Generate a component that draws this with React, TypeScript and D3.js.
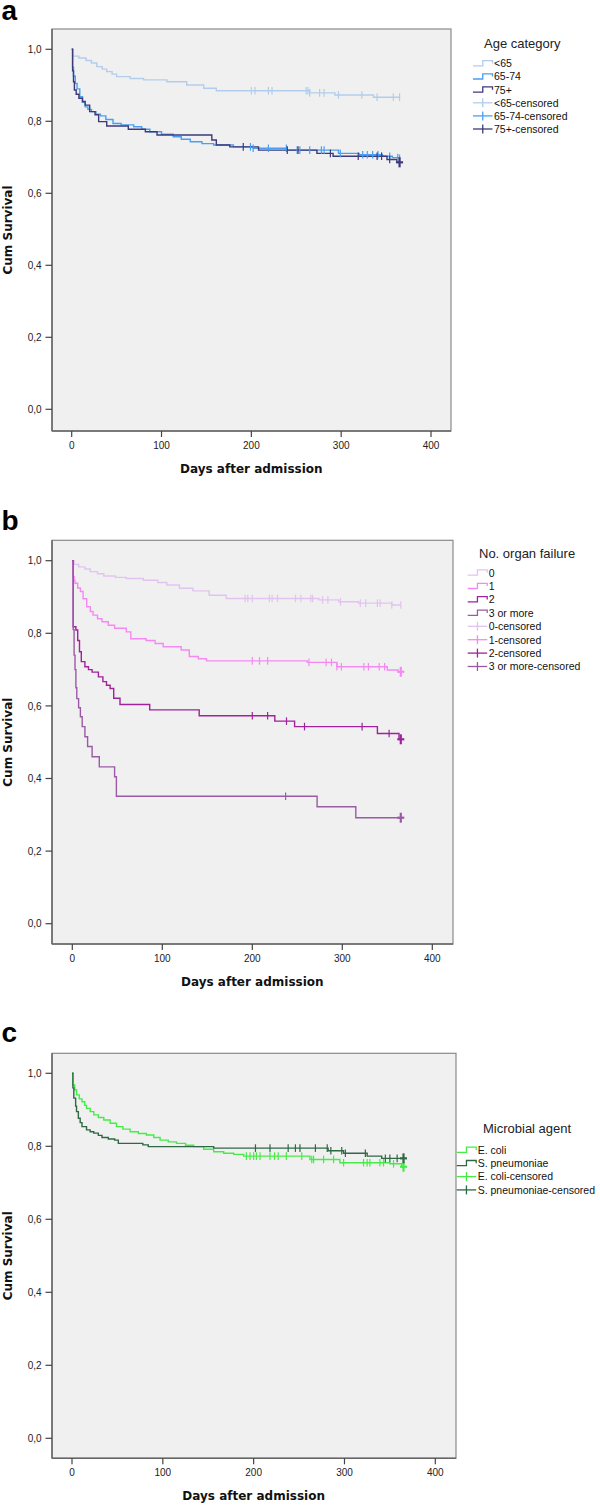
import * as d3 from 'd3'

// ---- panel a: age category ----
const ageUnder65Days = [0, 1, 8, 16, 22, 28, 34, 39, 45, 50, 65, 80, 106, 128, 147, 161, 265, 293, 336, 365]
const ageUnder65Surv = [1, 0.981, 0.976, 0.969, 0.962, 0.952, 0.945, 0.938, 0.931, 0.924, 0.919, 0.915, 0.91, 0.901, 0.892, 0.885, 0.879, 0.873, 0.867, 0.867]
const ageUnder65Censor = [200, 204, 219, 223, 261, 263, 265, 276, 281, 297, 323, 340, 358, 365]

const age6574Days = [0, 1, 2, 4, 6, 9, 12, 15, 18, 22, 27, 32, 38, 46, 55, 69, 78, 87, 100, 113, 122, 132, 145, 158, 180, 202, 240, 297, 320, 346, 357, 365]
const age6574Surv = [1, 0.95, 0.925, 0.905, 0.89, 0.868, 0.853, 0.84, 0.833, 0.827, 0.82, 0.815, 0.805, 0.794, 0.79, 0.785, 0.778, 0.771, 0.764, 0.757, 0.75, 0.743, 0.738, 0.734, 0.729, 0.725, 0.72, 0.711, 0.707, 0.703, 0.699, 0.697]
const age6574Censor = [199, 202, 219, 239, 251, 254, 265, 278, 281, 299, 324, 329, 335, 341, 354, 363, 365]

const age75Days = [0, 1, 2, 3, 5, 8, 12, 15, 20, 26, 30, 39, 63, 82, 95, 156, 161, 176, 208, 273, 291, 351, 362, 365]
const age75Surv = [1, 0.94, 0.91, 0.887, 0.875, 0.864, 0.855, 0.845, 0.827, 0.818, 0.799, 0.787, 0.778, 0.771, 0.762, 0.748, 0.734, 0.729, 0.72, 0.711, 0.703, 0.694, 0.686, 0.686]
const age75Censor = [191, 240, 252, 288, 319, 340, 345, 354, 365]

// ---- panel b: number of organ failures ----
const organ0Days = [0, 2, 7, 14, 20, 28, 35, 48, 60, 79, 95, 105, 119, 134, 152, 171, 274, 296, 318, 355, 365]
const organ0Surv = [1, 0.99, 0.983, 0.977, 0.97, 0.964, 0.958, 0.954, 0.951, 0.946, 0.94, 0.933, 0.924, 0.917, 0.905, 0.896, 0.892, 0.887, 0.883, 0.878, 0.878]
const organ0Censor = [192, 195, 200, 219, 222, 228, 248, 254, 265, 267, 278, 284, 298, 320, 326, 339, 342, 355, 365]

const organ1Days = [0, 1, 2, 3, 6, 9, 12, 16, 20, 23, 28, 33, 40, 47, 60, 65, 82, 92, 101, 121, 130, 140, 149, 261, 294, 350, 362, 365]
const organ1Surv = [1, 0.956, 0.945, 0.938, 0.925, 0.915, 0.895, 0.873, 0.86, 0.85, 0.84, 0.832, 0.822, 0.814, 0.804, 0.785, 0.78, 0.772, 0.763, 0.754, 0.736, 0.73, 0.724, 0.72, 0.708, 0.699, 0.694, 0.694]
const organ1Censor = [200, 208, 217, 263, 282, 288, 294, 299, 324, 329, 341, 347, 365]

const organ2Days = [0, 1, 4, 6, 8, 10, 14, 18, 22, 29, 34, 38, 42, 46, 53, 86, 141, 225, 247, 339, 363, 365]
const organ2Surv = [1, 0.818, 0.809, 0.78, 0.749, 0.722, 0.708, 0.7, 0.693, 0.68, 0.667, 0.657, 0.648, 0.621, 0.604, 0.589, 0.573, 0.558, 0.543, 0.524, 0.508, 0.508]
const organ2Censor = [200, 217, 238, 258, 322, 352, 365]

const organ3Days = [0, 1, 2, 3, 4, 5, 7, 9, 11, 14, 17, 22, 30, 47, 49, 272, 315, 365]
const organ3Surv = [1, 0.81, 0.74, 0.7, 0.65, 0.62, 0.595, 0.57, 0.543, 0.515, 0.488, 0.46, 0.432, 0.405, 0.351, 0.322, 0.292, 0.292]
const organ3Censor = [237, 365]

// ---- panel c: microbial agent ----
const ecoliDays = [0, 1, 3, 5, 8, 11, 14, 16, 20, 24, 29, 35, 42, 49, 56, 64, 73, 82, 90, 97, 106, 115, 125, 134, 145, 156, 167, 178, 189, 262, 295, 350, 363, 365]
const ecoliSurv = [1, 0.968, 0.955, 0.941, 0.93, 0.922, 0.912, 0.904, 0.895, 0.886, 0.879, 0.872, 0.863, 0.854, 0.847, 0.84, 0.835, 0.831, 0.824, 0.817, 0.812, 0.808, 0.803, 0.799, 0.792, 0.785, 0.781, 0.778, 0.773, 0.764, 0.755, 0.752, 0.744, 0.744]
const ecoliCensor = [192, 196, 200, 203, 207, 218, 223, 227, 236, 253, 264, 266, 277, 288, 299, 321, 325, 328, 339, 343, 354, 365]

const pneumoDays = [0, 1, 2, 4, 5, 7, 9, 11, 16, 20, 24, 29, 33, 40, 47, 51, 78, 84, 156, 282, 299, 325, 341, 365]
const pneumoSurv = [1, 0.96, 0.932, 0.91, 0.895, 0.877, 0.865, 0.854, 0.845, 0.84, 0.836, 0.83, 0.824, 0.82, 0.817, 0.808, 0.804, 0.799, 0.795, 0.788, 0.781, 0.773, 0.767, 0.767]
const pneumoCensor = [202, 218, 238, 246, 251, 268, 281, 285, 297, 301, 323, 345, 350, 358, 365]

const xTicks = [0, 100, 200, 300, 400]
const yTicks = [0, 0.2, 0.4, 0.6, 0.8, 1.0]

type Series = {
  name: string
  days: number[]
  surv: number[]
  censor: number[]
  color: string
  heavyEnd: boolean
}

type Layout = {
  box: [number, number, number, number]
  xRange: [number, number]
  yRange: [number, number]
  letterY: number
  symX: number
  titleX: number
  titleY: number
  itemY: number
  itemStep: number
}

const panels: { letter: string; legendTitle: string; series: Series[]; layout: Layout }[] = [
  {
    letter: 'a',
    legendTitle: 'Age category',
    series: [
      { name: '<65', days: ageUnder65Days, surv: ageUnder65Surv, censor: ageUnder65Censor, color: '#b2cdec', heavyEnd: false },
      { name: '65-74', days: age6574Days, surv: age6574Surv, censor: age6574Censor, color: '#4a9ff2', heavyEnd: false },
      { name: '75+', days: age75Days, surv: age75Surv, censor: age75Censor, color: '#3d3a7a', heavyEnd: true },
    ],
    layout: {
      box: [52, 29, 451, 431],
      xRange: [71.7, 431],
      yRange: [409.3, 49.3],
      letterY: 20,
      symX: 473,
      titleX: 484,
      titleY: 43.3,
      itemY: 63.5,
      itemStep: 13.1,
    },
  },
  {
    letter: 'b',
    legendTitle: 'No. organ failure',
    series: [
      { name: '0', days: organ0Days, surv: organ0Surv, censor: organ0Censor, color: '#e2c3f0', heavyEnd: false },
      { name: '1', days: organ1Days, surv: organ1Surv, censor: organ1Censor, color: '#f589f3', heavyEnd: true },
      { name: '2', days: organ2Days, surv: organ2Surv, censor: organ2Censor, color: '#a0229c', heavyEnd: true },
      { name: '3 or more', days: organ3Days, surv: organ3Surv, censor: organ3Censor, color: '#9a5ba6', heavyEnd: true },
    ],
    layout: {
      box: [52, 540.3, 453, 944],
      xRange: [72.3, 432.3],
      yRange: [923.7, 560.7],
      letterY: 530,
      symX: 467.7,
      titleX: 479,
      titleY: 553.3,
      itemY: 572.7,
      itemStep: 13.4,
    },
  },
  {
    letter: 'c',
    legendTitle: 'Microbial agent',
    series: [
      { name: 'E. coli', days: ecoliDays, surv: ecoliSurv, censor: ecoliCensor, color: '#46ec46', heavyEnd: true },
      { name: 'S. pneumoniae', days: pneumoDays, surv: pneumoSurv, censor: pneumoCensor, color: '#2e6944', heavyEnd: true },
    ],
    layout: {
      box: [52, 1053.3, 456, 1458.3],
      xRange: [72, 435.3],
      yRange: [1438.3, 1073.3],
      letterY: 1042,
      symX: 456.7,
      titleX: 483,
      titleY: 1128,
      itemY: 1150,
      itemStep: 13.3,
    },
  },
]

const sans = '"Liberation Sans", Arial, sans-serif'
const boldFont = '"DejaVu Sans", Verdana, sans-serif'

function survivalAt(s: Series, t: number) {
  const i = d3.bisectRight(s.days, t) - 1
  return s.surv[Math.max(0, i)]
}

function formatTick(v: number) {
  return d3.format('.1f')(v).replace('.', ',')
}

function Panel({ letter, legendTitle, series, layout }: (typeof panels)[number]) {
  const [left, top, right, bottom] = layout.box
  const x = d3.scaleLinear().domain([0, 400]).range(layout.xRange)
  const y = d3.scaleLinear().domain([0, 1]).range(layout.yRange)
  const line = d3
    .line<[number, number]>()
    .x((d) => x(d[0]))
    .y((d) => y(d[1]))
    .curve(d3.curveStepAfter)
  const midY = (top + bottom) / 2
  const symW = 19.5
  const legendRows = [
    ...series.map((s) => ({ label: s.name, color: s.color, censored: false })),
    ...series.map((s) => ({ label: `${s.name}-censored`, color: s.color, censored: true })),
  ]

  return (
    <g>
      <text x={1.5} y={layout.letterY} fontFamily={sans} fontWeight="bold" fontSize="28" fill="#000">
        {letter}
      </text>

      <rect x={left} y={top} width={right - left} height={bottom - top} fill="#f0f0f0" stroke="#8a8a8a" strokeWidth="1.2" />
      <line x1={left} x2={left} y1={top} y2={bottom} stroke="#666" strokeWidth="1.5" />
      <line x1={left} x2={right} y1={bottom} y2={bottom} stroke="#666" strokeWidth="1.5" />

      {yTicks.map((tick) => (
        <g key={tick} transform={`translate(0,${y(tick)})`}>
          <line x1={left - 6.5} x2={left} stroke="#444" strokeWidth="1.2" />
          <text x={41.7} y={3.6} textAnchor="end" fontFamily={sans} fontSize="10" fill="#222">
            {formatTick(tick)}
          </text>
        </g>
      ))}

      {xTicks.map((tick) => (
        <g key={tick} transform={`translate(${x(tick)},0)`}>
          <line y1={bottom} y2={bottom + 6} stroke="#444" strokeWidth="1.2" />
          <text y={bottom + 17.5} textAnchor="middle" fontFamily={sans} fontSize="10" fill="#222">
            {tick}
          </text>
        </g>
      ))}

      <text
        x={(layout.xRange[0] + layout.xRange[1]) / 2}
        y={bottom + 41.5}
        textAnchor="middle"
        fontFamily={boldFont}
        fontWeight="bold"
        fontSize="12"
        fill="#111"
      >
        Days after admission
      </text>
      <text
        transform={`translate(12,${midY}) rotate(-90)`}
        textAnchor="middle"
        fontFamily={boldFont}
        fontWeight="bold"
        fontSize="12"
        fill="#111"
      >
        Cum Survival
      </text>

      {series.map((s) => (
        <path
          key={s.name}
          d={line(s.days.map((d, i) => [d, s.surv[i]] as [number, number])) ?? ''}
          fill="none"
          stroke={s.color}
          strokeWidth="1.4"
        />
      ))}

      {series.map((s) =>
        s.censor.map((t, i) => {
          const cx = x(t)
          const cy = y(survivalAt(s, t))
          const heavy = s.heavyEnd && i === s.censor.length - 1
          return (
            <g key={`${s.name}-${i}`} stroke={s.color}>
              <line x1={cx} x2={cx} y1={cy - (heavy ? 5 : 3.8)} y2={cy + (heavy ? 5 : 3.8)} strokeWidth={heavy ? 2.2 : 1.2} />
              {heavy && <line x1={cx - 3.5} x2={cx + 3.5} y1={cy} y2={cy} strokeWidth="2.2" />}
            </g>
          )
        }),
      )}

      <text x={layout.titleX} y={layout.titleY + 4.6} fontFamily={sans} fontSize="13" fill="#222">
        {legendTitle}
      </text>
      {legendRows.map((row, i) => {
        const cy = layout.itemY + i * layout.itemStep
        const x0 = layout.symX
        const xm = x0 + symW / 2
        const x1 = x0 + symW
        return (
          <g key={row.label}>
            {row.censored ? (
              <g stroke={row.color} strokeWidth="1.3">
                <line x1={x0} x2={x1} y1={cy} y2={cy} />
                <line x1={xm} x2={xm} y1={cy - 4.5} y2={cy + 4.5} />
              </g>
            ) : (
              <path
                d={`M${x0},${cy + 2.4}H${xm}V${cy - 2.8}H${x1}V${cy}`}
                fill="none"
                stroke={row.color}
                strokeWidth="1.3"
              />
            )}
            <text x={x1 + 1.5} y={cy + 3.8} fontFamily={sans} fontSize="10.5" fill="#111">
              {row.label}
            </text>
          </g>
        )
      })}
    </g>
  )
}

export default function App() {
  return (
    <div style={{ position: 'absolute', left: 0, top: 0 }}>
      <svg width={600} height={1505} viewBox="0 0 600 1505" style={{ display: 'block', background: '#fff' }}>
        {panels.map((p) => (
          <Panel key={p.letter} {...p} />
        ))}
      </svg>
    </div>
  )
}
